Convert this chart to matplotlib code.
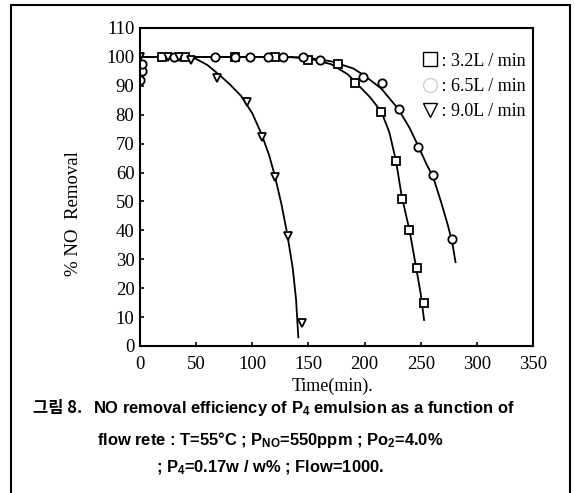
import matplotlib.pyplot as plt
from matplotlib.lines import Line2D
from matplotlib.patches import Rectangle

# data: time (min) and % NO removal
sq_t = [20, 40, 85, 120, 150, 176, 191.5, 214.6, 228, 233, 239.6, 246.5, 253]
sq_v = [100, 100, 100, 100, 99, 97.5, 91, 81, 64, 51, 40, 27, 15]

ci_t = [0, 2, 2, 30, 67, 85, 98, 114, 127, 145, 160, 199, 215.5, 230.6, 247.6, 261, 277.6]
ci_v = [92, 95, 97.5, 100, 100, 100, 100, 100, 100, 100, 99, 93, 91, 82, 69, 59, 37]

tr_t = [0, 25, 35, 45, 68.6, 95, 108.6, 120, 131.6, 144]
tr_v = [100, 100, 100, 99, 92.7, 84.4, 72.3, 58.5, 38, 8]

# hand drawn fit curves
sq_curve_t = [0, 130, 150, 170, 185, 195, 205, 215, 222, 228, 233, 240, 246, 250, 253]
sq_curve_v = [100, 100, 99.5, 97.5, 94, 90, 86, 81, 74, 64, 52, 40, 27, 18, 9]

ci_curve_t = [0, 130, 150, 170, 190, 200, 215, 230, 240, 248, 255, 261, 268, 274, 278, 281]
ci_curve_v = [100, 100, 99.7, 98.5, 96, 93.5, 89, 82, 75.5, 69, 63, 58.5, 50, 42, 36, 29]

tr_curve_t = [0, 40, 50, 60, 70, 80, 90, 100, 108, 115, 120, 126, 131, 136, 139, 141]
tr_curve_v = [100, 100, 99.3, 97.2, 94, 90.5, 86.5, 80.5, 73.5, 66, 59, 49, 39, 27, 16, 3]

labels = [' : 3.2L / min', ' : 6.5L / min', ' : 9.0L / min']

serif = 'Liberation Serif'
plt.rcParams['mathtext.fontset'] = 'custom'
plt.rcParams['mathtext.rm'] = 'Liberation Sans:bold'

fig = plt.figure(figsize=(5.75, 4.93), dpi=100)
ax = fig.add_axes([140 / 575, 147 / 493, 393 / 575, 318 / 493])

# outer frame of the figure panel
fig.patches.append(Rectangle((11 / 575, -0.05), 559 / 575, 1.04, transform=fig.transFigure,
                             fill=False, edgecolor='black', linewidth=1.5))

ax.plot(sq_curve_t, sq_curve_v, color='black', lw=1.3)
ax.plot(ci_curve_t, ci_curve_v, color='black', lw=1.3)
ax.plot(tr_curve_t, tr_curve_v, color='black', lw=1.3)

mk = dict(linestyle='none', markerfacecolor='white', markeredgecolor='black', markeredgewidth=1.3, markersize=6)
ax.plot(sq_t, sq_v, marker='s', **mk)
ax.plot(ci_t, ci_v, marker='o', **mk)
ax.plot(tr_t, tr_v, marker='v', **mk)

ax.set_xlim(0, 350)
ax.set_ylim(0, 110)
ax.set_xticks(range(0, 351, 50))
ax.set_yticks(range(0, 111, 10))
ax.tick_params(direction='in', length=3, width=1.2, labelsize=13.5, pad=4)
ax.tick_params(axis='x', pad=7)
for lab in ax.get_xticklabels() + ax.get_yticklabels():
    lab.set_family(serif)
for s in ax.spines.values():
    s.set_linewidth(1.5)

ax.set_xlabel('Time(min).', family=serif, fontsize=13)
ax.xaxis.set_label_coords(0.49, -0.1)
ax.set_ylabel('% NO  Removal', family=serif, fontsize=13.5)
ax.yaxis.set_label_coords(-0.148, 0.415)

handles = [Line2D([], [], marker=m, **mk) for m in ['s', 'o', 'v']]
for h in handles:
    h.set_markersize(10)
    h.set_markeredgewidth(1.0)
handles[1].set_markeredgecolor('#d0d0d0')
ax.legend(handles, labels, loc='upper right', frameon=False, prop={'family': serif, 'size': 13},
          handlelength=0.8, handletextpad=0.0, labelspacing=0.45, borderaxespad=0.0,
          bbox_to_anchor=(1.0, 0.945))

fs = 11.9
fig.text(33 / 575, 1 - 408 / 493, '그림 8.', ha='left', va='center',
         family='Noto Sans CJK KR', fontsize=fs, fontweight='bold')
fig.text(93 / 575, 1 - 408 / 493, 'NO removal efficiency of $\\mathregular{P_4}$ emulsion as a function of',
         ha='left', va='center', family='Liberation Sans', fontsize=fs, fontweight='bold')
fig.text(0.47, 1 - 440 / 493, 'flow rete : T=55°C ; $\\mathregular{P_{NO}}$=550ppm ; $\\mathregular{Po_2}$=4.0%',
         ha='center', va='center', family='Liberation Sans', fontsize=fs, fontweight='bold')
fig.text(0.47, 1 - 468 / 493, '; $\\mathregular{P_4}$=0.17w / w% ; Flow=1000.',
         ha='center', va='center', family='Liberation Sans', fontsize=fs, fontweight='bold')

fig.savefig('out.png', dpi=100)
